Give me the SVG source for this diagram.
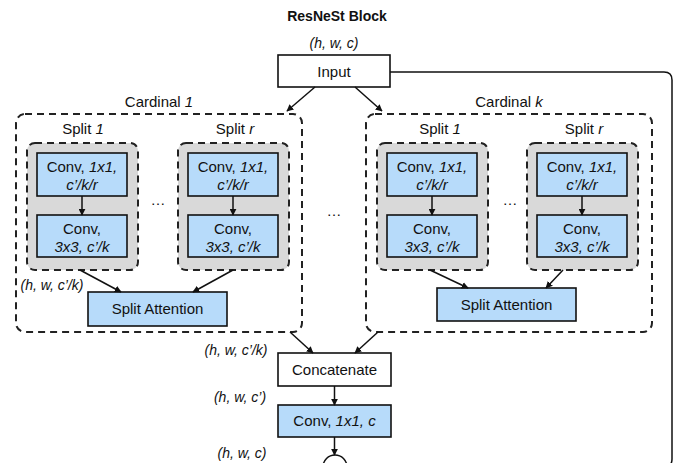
<svg xmlns="http://www.w3.org/2000/svg" width="675" height="463" viewBox="0 0 675 463">
<style>
text{font-family:"Liberation Sans",Arial,sans-serif;font-size:15px;fill:#111;text-anchor:middle}
.t{font-weight:bold;font-size:14px}
.i{font-style:italic}
.lbl{font-size:14px;font-style:italic}
.card{fill:#fff;stroke:#222;stroke-width:2;stroke-dasharray:7,5}
.split{fill:#d9d9d9;stroke:#222;stroke-width:2;stroke-dasharray:7,5}
.blue{fill:#b7dbfa;stroke:#111;stroke-width:1.6}
.white{fill:#fff;stroke:#111;stroke-width:1.6}
.c{fill:none;stroke:#111;stroke-width:1.5}
</style>
<defs>
<marker id="ah" viewBox="0 0 10 10" refX="9" refY="5" markerWidth="7" markerHeight="7" orient="auto" markerUnits="userSpaceOnUse">
<path d="M0,0 L10,5 L0,10 z" fill="#111"/>
</marker>
</defs>
<rect width="675" height="463" fill="#fff"/>
<text class="t" x="337" y="21">ResNeSt Block</text>
<text class="lbl" x="334" y="48">(h, w, c)</text>

<g id="cardinal1">
<rect class="card" x="16" y="114" width="286" height="218" rx="9"/>
<text x="159" y="107">Cardinal <tspan class="i">1</tspan></text>
<text class="lbl" x="52" y="290">(h, w, c’/k)</text>
</g>
<g id="cardinalk">
<rect class="card" x="366" y="114" width="286" height="218" rx="9"/>
<text x="509" y="107">Cardinal <tspan class="i">k</tspan></text>
</g>

<g id="c1s1">
<rect class="split" x="27" y="143" width="111" height="127" rx="8"/>
<text x="83" y="134">Split <tspan class="i">1</tspan></text>
<rect class="blue" x="37" y="153" width="90" height="43"/>
<text x="82" y="172">Conv, <tspan class="i">1x1,</tspan></text>
<text class="i" x="82" y="190">c’/k/r</text>
<rect class="blue" x="37" y="215" width="90" height="42"/>
<text x="82" y="234">Conv,</text>
<text class="i" x="82" y="252">3x3, c’/k</text>
</g>
<g id="c1sr">
<rect class="split" x="178" y="143" width="111" height="127" rx="8"/>
<text x="235" y="134">Split <tspan class="i">r</tspan></text>
<rect class="blue" x="188" y="153" width="90" height="43"/>
<text x="233" y="172">Conv, <tspan class="i">1x1,</tspan></text>
<text class="i" x="233" y="190">c’/k/r</text>
<rect class="blue" x="188" y="215" width="90" height="42"/>
<text x="233" y="234">Conv,</text>
<text class="i" x="233" y="252">3x3, c’/k</text>
</g>
<g id="c1sa">
<rect class="blue" x="88" y="292" width="139" height="34"/>
<text x="157.5" y="314">Split Attention</text>
</g>

<g id="cks1">
<rect class="split" x="377" y="143" width="111" height="127" rx="8"/>
<text x="440" y="134">Split <tspan class="i">1</tspan></text>
<rect class="blue" x="387" y="153" width="90" height="43"/>
<text x="432" y="172">Conv, <tspan class="i">1x1,</tspan></text>
<text class="i" x="432" y="190">c’/k/r</text>
<rect class="blue" x="387" y="215" width="90" height="42"/>
<text x="432" y="234">Conv,</text>
<text class="i" x="432" y="252">3x3, c’/k</text>
</g>
<g id="cksr">
<rect class="split" x="527" y="143" width="111" height="127" rx="8"/>
<text x="584" y="134">Split <tspan class="i">r</tspan></text>
<rect class="blue" x="537" y="153" width="90" height="43"/>
<text x="582" y="172">Conv, <tspan class="i">1x1,</tspan></text>
<text class="i" x="582" y="190">c’/k/r</text>
<rect class="blue" x="537" y="215" width="90" height="42"/>
<text x="582" y="234">Conv,</text>
<text class="i" x="582" y="252">3x3, c’/k</text>
</g>
<g id="cksa">
<rect class="blue" x="437" y="288" width="139" height="33"/>
<text x="506.5" y="310">Split Attention</text>
</g>

<g id="dots">
<text x="158" y="205">…</text>
<text x="510" y="205">…</text>
<text x="334" y="216">…</text>
</g>

<g id="input">
<rect class="white" x="278" y="55" width="112" height="32"/>
<text x="334" y="77">Input</text>
</g>
<g id="concat">
<rect class="white" x="278" y="353" width="113" height="33"/>
<text x="334.5" y="375">Concatenate</text>
<text class="lbl" x="236" y="355">(h, w, c’/k)</text>
<text class="lbl" x="240" y="402">(h, w, c’)</text>
</g>
<g id="conv">
<rect class="blue" x="278" y="405" width="113" height="32"/>
<text x="334.5" y="426">Conv, <tspan class="i">1x1, c</tspan></text>
<text class="lbl" x="242" y="458">(h, w, c)</text>
</g>
<g id="sum">
<circle cx="335" cy="467" r="12" fill="#fff" stroke="#111" stroke-width="1.5"/>
</g>

<g id="connectors">
<line class="c" x1="315" y1="87" x2="287" y2="111" marker-end="url(#ah)"/>
<line class="c" x1="355" y1="87" x2="382" y2="111" marker-end="url(#ah)"/>
<line class="c" x1="82" y1="196" x2="82" y2="215" marker-end="url(#ah)"/>
<line class="c" x1="233" y1="196" x2="233" y2="215" marker-end="url(#ah)"/>
<line class="c" x1="432" y1="196" x2="432" y2="215" marker-end="url(#ah)"/>
<line class="c" x1="582" y1="196" x2="582" y2="215" marker-end="url(#ah)"/>
<line class="c" x1="80" y1="270" x2="121" y2="292" marker-end="url(#ah)"/>
<line class="c" x1="233" y1="270" x2="193" y2="292" marker-end="url(#ah)"/>
<line class="c" x1="430" y1="270" x2="468" y2="288" marker-end="url(#ah)"/>
<line class="c" x1="563" y1="270" x2="546" y2="288" marker-end="url(#ah)"/>
<line class="c" x1="290" y1="332" x2="313" y2="353" marker-end="url(#ah)"/>
<line class="c" x1="378" y1="332" x2="355" y2="353" marker-end="url(#ah)"/>
<line class="c" x1="334.5" y1="386" x2="334.5" y2="405" marker-end="url(#ah)"/>
<line class="c" x1="334.5" y1="437" x2="334.5" y2="455" marker-end="url(#ah)"/>
<path class="c" d="M390,72 H664 Q672,72 672,80 V459 Q672,467 664,467 H347" marker-end="url(#ah)"/>
</g>
</svg>
